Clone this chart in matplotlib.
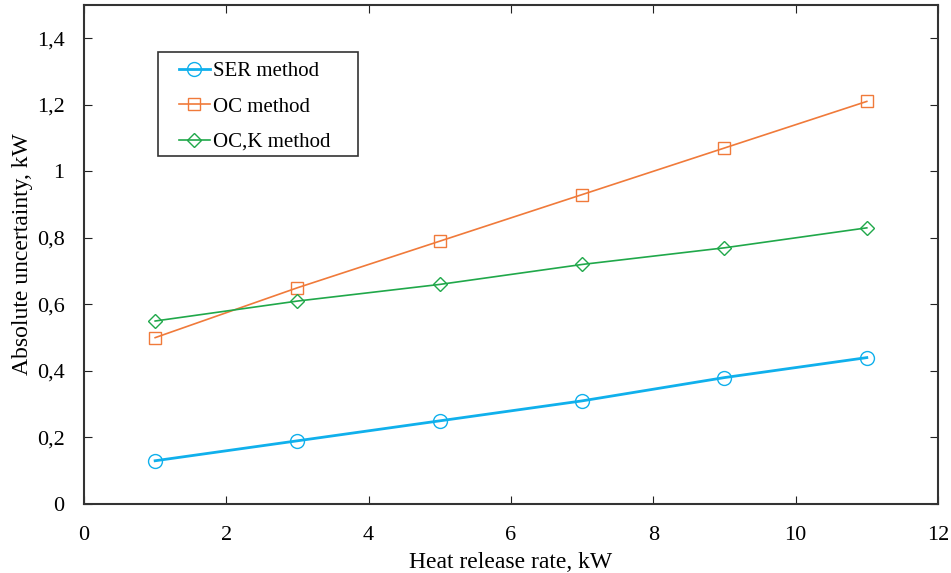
import numpy as np
import matplotlib.pyplot as plt
from matplotlib.patches import Rectangle
from matplotlib.ticker import FuncFormatter

plt.rcParams['font.family'] = ['Liberation Serif', 'DejaVu Serif']

hrr = [1, 3, 5, 7, 9, 11]
ser = [0.13, 0.19, 0.25, 0.31, 0.38, 0.44]
oc = [0.50, 0.65, 0.79, 0.93, 1.07, 1.21]
ock = [0.55, 0.61, 0.66, 0.72, 0.77, 0.83]

fig = plt.figure(figsize=(9.51, 5.73), dpi=100)
ax = fig.add_axes([0.0883, 0.1204, 0.898, 0.871])

ax.plot(hrr, ser, color='#10B0EC', lw=2, marker='o', ms=10, mfc='none', mew=1,
        label='SER method')
ax.plot(hrr, oc, color='#F07A3A', lw=1.2, marker='s', ms=9, mfc='none', mew=1,
        label='OC method')
ax.plot(hrr, ock, color='#20A84A', lw=1.2, marker='D', ms=7, mfc='none', mew=1,
        label='OC,K method')

ax.set_xlim(0, 12)
ax.set_ylim(0, 1.5)
ax.set_xticks(np.arange(0, 13, 2))
ax.set_yticks(np.arange(0, 1.41, 0.2))
ax.yaxis.set_major_formatter(FuncFormatter(lambda v, p: ('%g' % round(v, 1)).replace('.', ',')))
ax.tick_params(direction='in', top=True, right=True, labelsize=16, length=6,
               color='#222222')
ax.tick_params(axis='x', pad=16)
ax.tick_params(axis='y', pad=14)
for s in ax.spines.values():
    s.set_linewidth(1.5)
    s.set_color('#333333')

ax.set_xlabel('Heat release rate, kW', fontsize=17, labelpad=5)
ax.set_ylabel('Absolute uncertainty, kW', fontsize=17)
ax.yaxis.set_label_coords(-0.0597, 0.5)

# legend (frame drawn separately to match the wide box)
leg = ax.legend(loc='upper left', bbox_to_anchor=(0.182, 0.903),
                bbox_transform=fig.transFigure, fontsize=15, frameon=False,
                handlelength=1.45, handletextpad=0.15, borderpad=0.3,
                labelspacing=0.75, borderaxespad=0)
fig.patches.append(Rectangle((0.1661, 0.7277), 0.2104, 0.1815,
                             transform=fig.transFigure, fill=False,
                             edgecolor='#333333', lw=1.2))

fig.savefig('out.png', dpi=100)
